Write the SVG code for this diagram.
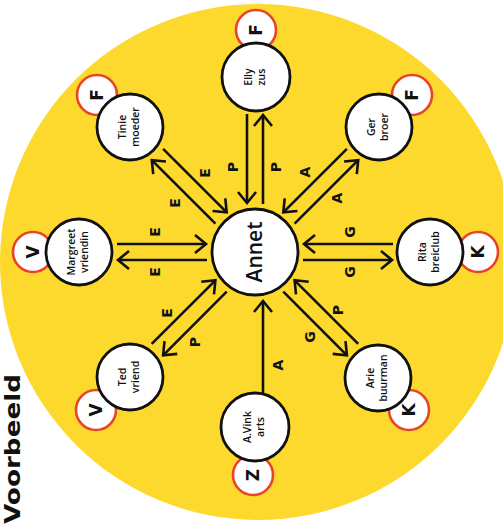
<svg xmlns="http://www.w3.org/2000/svg" width="503" height="530" viewBox="0 0 503 530">
<defs>
<style>
.bg{fill:#FDD92E}
.node{fill:#fff;stroke:#111;stroke-width:2.8}
.badge{fill:#fff;stroke:#E8432B;stroke-width:2.6}
.nt{font-family:"Open Sans","Liberation Sans",sans-serif;font-weight:600;font-size:10.5px;fill:#111;text-anchor:middle}
.bt{font-family:"DejaVu Sans","Liberation Sans",sans-serif;font-weight:bold;font-size:17px;fill:#111;text-anchor:middle}
.lt{font-family:"DejaVu Sans","Liberation Sans",sans-serif;font-weight:bold;font-size:14px;fill:#111;text-anchor:middle}
.big{font-family:"Open Sans","Liberation Sans",sans-serif;font-weight:600;font-size:21px;fill:#111;text-anchor:middle}
.vb{font-family:"DejaVu Sans","Liberation Sans",sans-serif;font-weight:bold;font-size:22px;fill:#111}
.ln{stroke:#111;stroke-width:2.6;fill:none}
.ar{marker-end:url(#ah)}
</style>
<marker id="ah" markerUnits="userSpaceOnUse" markerWidth="30" markerHeight="30" refX="0" refY="0" viewBox="-15 -15 30 30" orient="auto" overflow="visible">
<path d="M-11,-9 L0,0 L-11,9" fill="none" stroke="#111" stroke-width="2.6"/>
</marker>
</defs>

<circle class="bg" cx="258" cy="262" r="258"/>

<text class="vb" transform="translate(20,524) rotate(-90)" textLength="150" lengthAdjust="spacingAndGlyphs">Voorbeeld</text>

<g id="connectors">
<line class="ln ar" x1="247" y1="114" x2="247" y2="203"/>
<line class="ln ar" x1="263" y1="204" x2="263" y2="115"/>
<line class="ln ar" x1="263" y1="393" x2="263" y2="301"/>
<line class="ln ar" x1="117" y1="244" x2="206" y2="244"/>
<line class="ln ar" x1="207" y1="260" x2="118" y2="260"/>
<line class="ln ar" x1="393" y1="244" x2="304" y2="244"/>
<line class="ln ar" x1="303" y1="260" x2="392" y2="260"/>
<line class="ln ar" x1="163.1" y1="148.8" x2="226.7" y2="212.4"/>
<line class="ln ar" x1="215.4" y1="223.7" x2="151.8" y2="160.1"/>
<line class="ln ar" x1="346.9" y1="148.8" x2="283.3" y2="212.4"/>
<line class="ln ar" x1="294.6" y1="223.7" x2="358.2" y2="160.1"/>
<line class="ln ar" x1="151.7" y1="343.9" x2="215.4" y2="280.3"/>
<line class="ln ar" x1="226.7" y1="291.6" x2="163.1" y2="355.3"/>
<line class="ln ar" x1="358.2" y1="343.9" x2="294.6" y2="280.3"/>
<line class="ln ar" x1="283.3" y1="291.6" x2="346.9" y2="355.3"/>

<g id="labels">
<text class="lt" transform="translate(238,167) rotate(-90)">P</text>
<text class="lt" transform="translate(281,167) rotate(-90)">P</text>
<text class="lt" transform="translate(210,173) rotate(-90)">E</text>
<text class="lt" transform="translate(180,203) rotate(-90)">E</text>
<text class="lt" transform="translate(310,172) rotate(-90)">A</text>
<text class="lt" transform="translate(342,198) rotate(-90)">A</text>
<text class="lt" transform="translate(160,232) rotate(-90)">E</text>
<text class="lt" transform="translate(160,272) rotate(-90)">E</text>
<text class="lt" transform="translate(355,232) rotate(-90)">G</text>
<text class="lt" transform="translate(355,272) rotate(-90)">G</text>
<text class="lt" transform="translate(172,313) rotate(-90)">E</text>
<text class="lt" transform="translate(200,342) rotate(-90)">P</text>
<text class="lt" transform="translate(343,310) rotate(-90)">P</text>
<text class="lt" transform="translate(315,337) rotate(-90)">G</text>
<text class="lt" transform="translate(283,365) rotate(-90)">A</text>
</g>
</g>

<g id="annet">
<circle class="node" cx="255" cy="252" r="43"/>
<text class="big" transform="translate(255,252) rotate(-90)" y="7">Annet</text>
</g>

<g id="elly">
<circle class="badge" cx="256" cy="30" r="20"/>
<text class="bt" transform="translate(256,30) rotate(-90)" y="6">F</text>
<circle class="node" cx="256" cy="77" r="34"/>
<text class="nt" transform="translate(256,77) rotate(-90)"><tspan x="0" y="-4">Elly</tspan><tspan x="0" y="9">zus</tspan></text>
</g>

<g id="tinie">
<circle class="badge" cx="97" cy="95" r="20"/>
<text class="bt" transform="translate(97,95) rotate(-90)" y="6">F</text>
<circle class="node" cx="130" cy="127" r="33"/>
<text class="nt" transform="translate(130,127) rotate(-90)"><tspan x="0" y="-4">Tinie</tspan><tspan x="0" y="9">moeder</tspan></text>
</g>

<g id="ger">
<circle class="badge" cx="412" cy="95" r="20"/>
<text class="bt" transform="translate(412,95) rotate(-90)" y="6">F</text>
<circle class="node" cx="379" cy="127" r="33"/>
<text class="nt" transform="translate(379,127) rotate(-90)"><tspan x="0" y="-4">Ger</tspan><tspan x="0" y="9">broer</tspan></text>
</g>

<g id="margreet">
<circle class="badge" cx="33" cy="252" r="20"/>
<text class="bt" transform="translate(33,252) rotate(-90)" y="6">V</text>
<circle class="node" cx="79" cy="252" r="33"/>
<text class="nt" transform="translate(79,252) rotate(-90)"><tspan x="0" y="-4">Margreet</tspan><tspan x="0" y="9">vriendin</tspan></text>
</g>

<g id="rita">
<circle class="badge" cx="478" cy="252" r="20"/>
<text class="bt" transform="translate(478,252) rotate(-90)" y="6">K</text>
<circle class="node" cx="430" cy="252" r="33"/>
<text class="nt" transform="translate(430,252) rotate(-90)"><tspan x="0" y="-4">Rita</tspan><tspan x="0" y="9">breiclub</tspan></text>
</g>

<g id="ted">
<circle class="badge" cx="96" cy="410" r="20"/>
<text class="bt" transform="translate(96,410) rotate(-90)" y="6">V</text>
<circle class="node" cx="130" cy="377" r="33"/>
<text class="nt" transform="translate(130,377) rotate(-90)"><tspan x="0" y="-4">Ted</tspan><tspan x="0" y="9">vriend</tspan></text>
</g>

<g id="arie">
<circle class="badge" cx="409" cy="410" r="20"/>
<text class="bt" transform="translate(409,410) rotate(-90)" y="6">K</text>
<circle class="node" cx="378" cy="378" r="33"/>
<text class="nt" transform="translate(378,378) rotate(-90)"><tspan x="0" y="-4">Arie</tspan><tspan x="0" y="9">buurman</tspan></text>
</g>

<g id="avink">
<circle class="badge" cx="253" cy="475" r="20"/>
<text class="bt" transform="translate(253,475) rotate(-90)" y="6">Z</text>
<circle class="node" cx="255" cy="427" r="34"/>
<text class="nt" transform="translate(255,427) rotate(-90)"><tspan x="0" y="-4">A.Vink</tspan><tspan x="0" y="9">arts</tspan></text>
</g>
</svg>
